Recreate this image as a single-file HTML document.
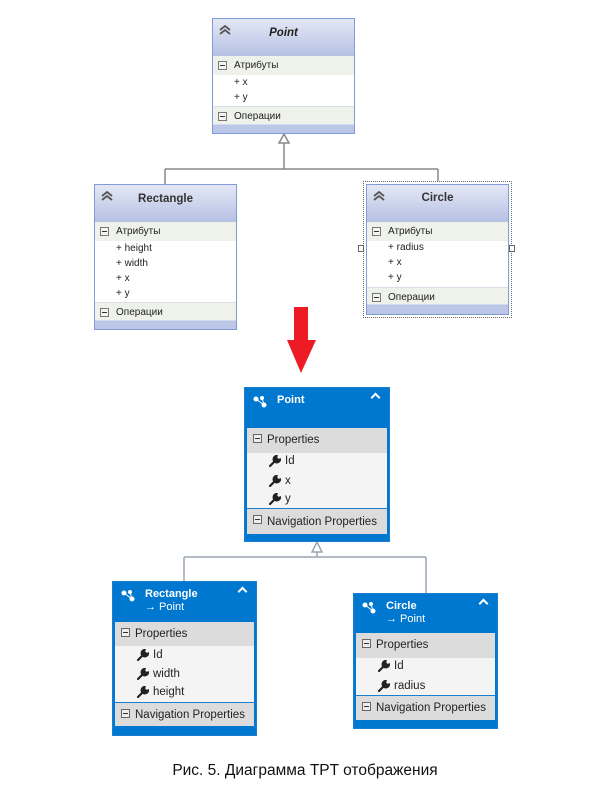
<!DOCTYPE html>
<html><head><meta charset="utf-8">
<style>
*{margin:0;padding:0;box-sizing:border-box}
body{width:610px;height:793px;background:#fff;position:relative;overflow:hidden;font-family:"Liberation Sans",sans-serif}
.a{position:absolute}
.ob{position:absolute;border:1px solid #7f9cd8;background:#fff;overflow:hidden}
.oh{position:absolute;left:0;right:0;top:0;background:linear-gradient(#e4e8f5,#b5c1e4)}
.orow{position:absolute;left:0;right:0;background:#eff2ea;font-size:10px;color:#222;padding-left:21px}
.oit{position:absolute;font-size:10px;color:#222;height:14px;line-height:14px}
.oband{position:absolute;left:0;right:0;bottom:0;background:#bcc6e6;border-top:1px solid #d6dcef}
.mn{position:absolute;left:5px;width:9px;height:9px;border:1px solid #777;background:#f4f4f4}
.mn:after{content:"";position:absolute;left:1px;right:1px;top:3px;height:1px;background:#333}
.chev{position:absolute;left:6px;top:6px;width:12px;height:10px}
.nb{position:absolute;border:1px solid #1a7fd0;background:#0078d0;overflow:hidden}
.nh{position:absolute;left:0;right:0;top:0;color:#fff;font-size:11px;font-weight:bold}
.nrow{position:absolute;left:2px;right:2px;background:#dcdcdc;font-size:11.5px;color:#222;padding-left:20px}
.nit{position:absolute;left:2px;right:2px;background:#f4f4f4}
.nt{position:absolute;font-size:11.5px;color:#222;height:16px;line-height:16px}
.nm{position:absolute;left:6px;width:9px;height:9px;border:1px solid #666;background:#eee}
.nm:after{content:"";position:absolute;left:1px;right:1px;top:3px;height:1px;background:#333}
.wr{position:absolute;width:12px;height:12px}
.ic{position:absolute;left:8px;top:8px;width:16px;height:12px}
.up{position:absolute;top:6px;right:10px;width:7px;height:7px;border-left:2px solid #fff;border-top:2px solid #fff;transform:rotate(45deg)}
</style></head><body>
<svg width="0" height="0" style="position:absolute">
<defs>
<symbol id="w" viewBox="0 0 12 12"><path d="M1 11 L6 6 M7.5 1 A3.2 3.2 0 1 0 11 4.5 L9.2 5 L7 3 Z" stroke="#222" stroke-width="2.2" fill="#222" stroke-linecap="round"/></symbol>
<symbol id="c" viewBox="0 0 12 10"><path d="M1 5 L6 1 L11 5 M1 9 L6 5 L11 9" stroke="#555" stroke-width="1.8" fill="none"/></symbol>
<symbol id="e" viewBox="0 0 16 12"><circle cx="3" cy="3" r="2.5" fill="#fff"/><circle cx="9" cy="2" r="2" fill="#fff"/><circle cx="11" cy="9" r="2.5" fill="#fff"/><path d="M3 3 L11 9 M9 2 L11 9" stroke="#fff"/></symbol>
</defs></svg>

<svg class="a" style="left:0;top:0" width="610" height="793">
<g stroke="#888" stroke-width="1.5" fill="none">
<path d="M284 143 V169 M165 169 H438 M165 169 V184 M438 169 V181"/>
<path d="M279 143 L284 134 L289 143 Z" fill="#fff"/>
</g>
<g stroke="#9aa6b4" stroke-width="1.5" fill="none">
<path d="M317 552 V557 M184 557 H426 M184 557 V581 M426 557 V593"/>
<path d="M312 552 L317 542 L322 552 Z" fill="#fff"/>
</g>
<path d="M294 307 H308 V340 H316 L301 373 L287 340 H294 Z" fill="#ed1c24"/>
</svg>

<!-- OLD Point -->
<div class="ob" style="left:212px;top:18px;width:143px;height:116px">
 <div class="oh" style="height:37px"><svg class="chev"><use href="#c"/></svg><div class="a" style="left:0;right:0;top:8px;text-align:center;font-size:11.5px;font-weight:bold;font-style:italic;color:#222">Point</div></div>
 <div class="orow" style="top:37px;height:19px;line-height:19px"><div class="mn" style="top:5px"></div>Атрибуты</div>
 <div class="oit" style="left:21px;top:57px">+ x</div>
 <div class="oit" style="left:21px;top:72px">+ y</div>
 <div class="orow" style="top:87px;height:20px;line-height:19px;border-top:1px solid #d8dfe8"><div class="mn" style="top:5px"></div>Операции</div>
 <div class="oband" style="height:9px"></div>
</div>

<!-- OLD Rectangle -->
<div class="ob" style="left:94px;top:184px;width:143px;height:146px">
 <div class="oh" style="height:37px"><svg class="chev"><use href="#c"/></svg><div class="a" style="left:0;right:0;top:8px;text-align:center;font-size:11.5px;font-weight:bold;color:#333">Rectangle</div></div>
 <div class="orow" style="top:37px;height:19px;line-height:19px"><div class="mn" style="top:5px"></div>Атрибуты</div>
 <div class="oit" style="left:21px;top:57px">+ height</div>
 <div class="oit" style="left:21px;top:72px">+ width</div>
 <div class="oit" style="left:21px;top:87px">+ x</div>
 <div class="oit" style="left:21px;top:102px">+ y</div>
 <div class="orow" style="top:117px;height:20px;line-height:19px;border-top:1px solid #d8dfe8"><div class="mn" style="top:5px"></div>Операции</div>
 <div class="oband" style="height:9px"></div>
</div>

<!-- OLD Circle -->
<div class="a" style="left:363px;top:181px;width:149px;height:137px;border:1px dotted #666"></div>
<div class="a" style="left:358px;top:245px;width:6px;height:7px;border:1px solid #666;background:#fff"></div>
<div class="a" style="left:509px;top:245px;width:6px;height:7px;border:1px solid #666;background:#fff"></div>
<div class="ob" style="left:366px;top:184px;width:143px;height:131px">
 <div class="oh" style="height:37px"><svg class="chev"><use href="#c"/></svg><div class="a" style="left:0;right:0;top:7px;text-align:center;font-size:11.5px;font-weight:bold;color:#333">Circle</div></div>
 <div class="orow" style="top:37px;height:19px;line-height:19px"><div class="mn" style="top:5px"></div>Атрибуты</div>
 <div class="oit" style="left:21px;top:56px">+ radius</div>
 <div class="oit" style="left:21px;top:71px">+ x</div>
 <div class="oit" style="left:21px;top:86px">+ y</div>
 <div class="orow" style="top:102px;height:19px;line-height:19px;border-top:1px solid #d8dfe8"><div class="mn" style="top:5px"></div>Операции</div>
 <div class="oband" style="height:10px"></div>
</div>

<!-- NEW Point -->
<div class="nb" style="left:244px;top:387px;width:146px;height:155px">
 <div class="nh" style="height:40px"><svg class="ic"><use href="#e"/></svg><div class="a" style="left:32px;top:6px">Point</div><div class="up"></div></div>
 <div class="nrow" style="top:40px;height:25px;line-height:25px"><div class="nm" style="top:6px"></div>Properties</div>
 <div class="nit" style="top:65px;height:55px"></div>
 <svg class="wr" style="left:24px;top:67px"><use href="#w"/></svg><div class="nt" style="left:40px;top:65px">Id</div>
 <svg class="wr" style="left:24px;top:87px"><use href="#w"/></svg><div class="nt" style="left:40px;top:85px">x</div>
 <svg class="wr" style="left:24px;top:105px"><use href="#w"/></svg><div class="nt" style="left:40px;top:103px">y</div>
 <div class="nrow" style="top:120px;height:26px;line-height:26px;border-top:1px solid #1a7fd0"><div class="nm" style="top:6px"></div>Navigation Properties</div>
</div>

<!-- NEW Rectangle -->
<div class="nb" style="left:112px;top:581px;width:145px;height:155px">
 <div class="nh" style="height:40px"><svg class="ic"><use href="#e"/></svg><div class="a" style="left:32px;top:6px">Rectangle</div><div class="a" style="left:32px;top:19px;font-weight:normal">→ Point</div><div class="up"></div></div>
 <div class="nrow" style="top:40px;height:24px;line-height:24px"><div class="nm" style="top:6px"></div>Properties</div>
 <div class="nit" style="top:64px;height:56px"></div>
 <svg class="wr" style="left:24px;top:67px"><use href="#w"/></svg><div class="nt" style="left:40px;top:65px">Id</div>
 <svg class="wr" style="left:24px;top:86px"><use href="#w"/></svg><div class="nt" style="left:40px;top:84px">width</div>
 <svg class="wr" style="left:24px;top:104px"><use href="#w"/></svg><div class="nt" style="left:40px;top:102px">height</div>
 <div class="nrow" style="top:120px;height:24px;line-height:24px;border-top:1px solid #1a7fd0"><div class="nm" style="top:6px"></div>Navigation Properties</div>
</div>

<!-- NEW Circle -->
<div class="nb" style="left:353px;top:593px;width:145px;height:136px">
 <div class="nh" style="height:39px"><svg class="ic"><use href="#e"/></svg><div class="a" style="left:32px;top:6px">Circle</div><div class="a" style="left:32px;top:19px;font-weight:normal">→ Point</div><div class="up"></div></div>
 <div class="nrow" style="top:39px;height:25px;line-height:25px"><div class="nm" style="top:6px"></div>Properties</div>
 <div class="nit" style="top:64px;height:37px"></div>
 <svg class="wr" style="left:24px;top:66px"><use href="#w"/></svg><div class="nt" style="left:40px;top:64px">Id</div>
 <svg class="wr" style="left:24px;top:86px"><use href="#w"/></svg><div class="nt" style="left:40px;top:84px">radius</div>
 <div class="nrow" style="top:101px;height:25px;line-height:25px;border-top:1px solid #1a7fd0"><div class="nm" style="top:6px"></div>Navigation Properties</div>
</div>

<div class="a" style="left:0;width:610px;top:762px;text-align:center;font-size:15.5px;color:#111">Рис. 5. Диаграмма TPT отображения</div>
</body></html>
